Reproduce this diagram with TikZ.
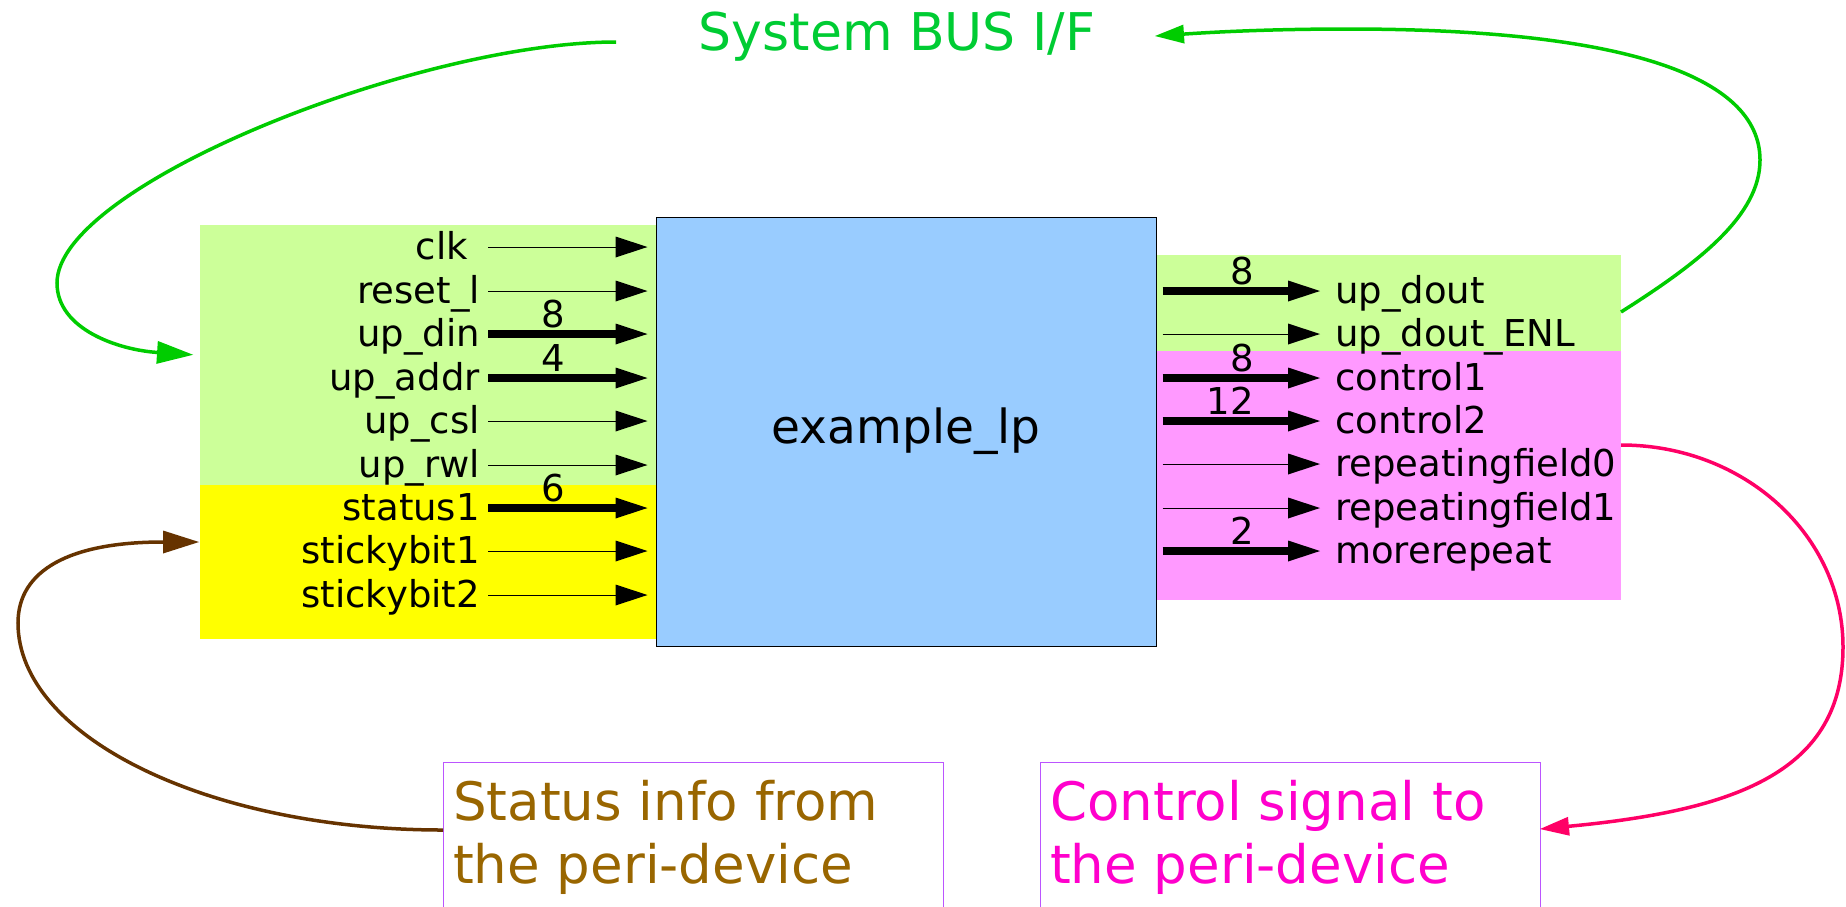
\documentclass[tikz,border=0pt]{standalone}
\usepackage{fontspec}
\setmainfont{DejaVu Sans}
\usetikzlibrary{arrows.meta}
\definecolor{lgreen}{HTML}{CCFF99}
\definecolor{pinkbg}{HTML}{FF99FF}
\definecolor{bluebox}{HTML}{99CCFF}
\definecolor{sigyellow}{RGB}{255,255,0}
\definecolor{busgreen}{HTML}{00CC33}
\definecolor{curvegreen}{HTML}{00CC00}
\definecolor{brownc}{HTML}{663300}
\definecolor{statustext}{HTML}{996600}
\definecolor{ctrltext}{HTML}{FF00CC}
\definecolor{pinkcurve}{HTML}{FF0066}
\definecolor{boxborder}{HTML}{BB55FF}
\begin{document}
\begin{tikzpicture}[x=1pt,y=-1pt,
  sigfont/.style={font=\fontsize{37}{44}\selectfont, inner sep=0pt},
  sigtip/.style={-{Triangle[length=32pt,width=21pt,line width=0pt]}},
  thinsig/.style={sigtip, line width=1pt},
  thicksig/.style={sigtip, line width=8pt},
  bgbox/.style={inner sep=0pt, anchor=north west, draw=none},
  bigtip/.style={-{Triangle[length=36pt,width=23pt,line width=0pt]}},
  smalltip/.style={-{Triangle[length=29pt,width=19pt,line width=0pt]}},
  greenloop/.style={curvegreen, line width=3.5pt},
  brownloop/.style={brownc, line width=3.5pt, bigtip},
  pinkloop/.style={pinkcurve, line width=3.5pt, smalltip},
  notebox/.style={draw=boxborder, line width=1pt, minimum width=500pt, minimum height=200pt, inner sep=0pt, anchor=north west},
  notetext/.style={anchor=north west, inner sep=0pt, align=left, font=\fontsize{53}{63}\selectfont}
]
\useasboundingbox (0,0) rectangle (1846,906);
\clip (0,0) rectangle (1846,906);

% background groups
\node[bgbox, fill=lgreen, minimum width=456pt, minimum height=260pt] (ingrp) at (200,225) {};
\node[bgbox, fill=sigyellow, minimum width=456pt, minimum height=154pt] (stgrp) at (200,485) {};
\node[bgbox, fill=lgreen, minimum width=465pt, minimum height=96pt] (outgrp) at (1156,255) {};
\node[bgbox, fill=pinkbg, minimum width=465pt, minimum height=249pt] (ctlgrp) at (1156,351) {};

% main block
\node[draw=black, fill=bluebox, line width=1pt, minimum width=500pt, minimum height=429pt, inner sep=0pt,
      font=\fontsize{47}{56}\selectfont] (main) at (906,431.5) {example\_lp};

% inputs
\foreach \lab/\xe/\yy/\st [count=\i] in {clk/468/247/thinsig, reset\_l/480/291/thinsig,
   up\_din/480/334/thicksig, up\_addr/480/378/thicksig, up\_csl/480/421/thinsig,
   up\_rwl/480/465/thinsig, status1/480/508/thicksig, stickybit1/480/551/thinsig,
   stickybit2/480/595/thinsig}
{
  \node[sigfont, anchor=base east] (in\i) at (\xe,\yy+12) {\lab};
  \coordinate (is\i) at (488,\yy);
  \draw[\st, shorten >=8pt] (is\i) -- (is\i -| main.west);
}
\foreach \w/\yy [count=\i] in {8/334, 4/378, 6/508}
  \node[sigfont, anchor=base east] (wi\i) at (565,\yy-7) {\w};

% outputs
\foreach \lab/\yy/\st [count=\i] in {up\_dout/291/thicksig, up\_dout\_ENL/334/thinsig,
   control1/378/thicksig, control2/421/thicksig, repeatingfield0/464/thinsig,
   repeatingfield1/508/thinsig, morerepeat/551/thicksig}
{
  \node[sigfont, anchor=base west] (out\i) at (1335,\yy+12) {\lab};
  \coordinate (ot\i) at (1320,\yy);
  \draw[\st, shorten <=6pt] (main.east |- ot\i) -- (ot\i);
}
\foreach \w/\yy [count=\i] in {8/291, 8/378, 12/421, 2/551}
  \node[sigfont, anchor=base east] (wo\i) at (1254,\yy-7) {\w};

% title
\node[text=busgreen, font=\fontsize{52}{60}\selectfont, inner sep=0pt, anchor=base] (bus) at (897,50) {System BUS I/F};
\coordinate (busL) at (616,42);
\coordinate (busR) at (1155,36);
\coordinate (outS) at (1621,312);

% note boxes
\node[notebox] (stbox) at (443,762) {};
\node[notetext, text=statustext] (sttext) at (453,780) {Status info from\\the peri-device};
\node[notebox] (ctlbox) at (1040,762) {};
\node[notetext, text=ctrltext] (ctltext) at (1050,780) {Control signal to\\the peri-device};
\coordinate (stS) at (443,830);
\coordinate (brE) at (199,542);
\coordinate (pkS) at (1621,445);
\coordinate (pkE) at (1540,829);

% loops
\draw[greenloop, bigtip, shorten >=7pt] (busL) .. controls (420,42) and (57,185) .. (57,283)
   .. controls (57,330) and (120,350) .. (ingrp.west);
\draw[greenloop, smalltip] (outS) .. controls (1700,262) and (1760,215) .. (1760,160)
   .. controls (1760,75) and (1620,29) .. (1348,29)
   .. controls (1260,29) and (1200,33) .. (busR);
\draw[brownloop] (stS) .. controls (209,830) and (18,737) .. (18,623)
   .. controls (18,570) and (70,542) .. (brE);
\draw[pinkloop] (pkS) .. controls (1745,445) and (1843,536) .. (1843,647)
   .. controls (1843,770) and (1740,810) .. (pkE);
\end{tikzpicture}
\end{document}
